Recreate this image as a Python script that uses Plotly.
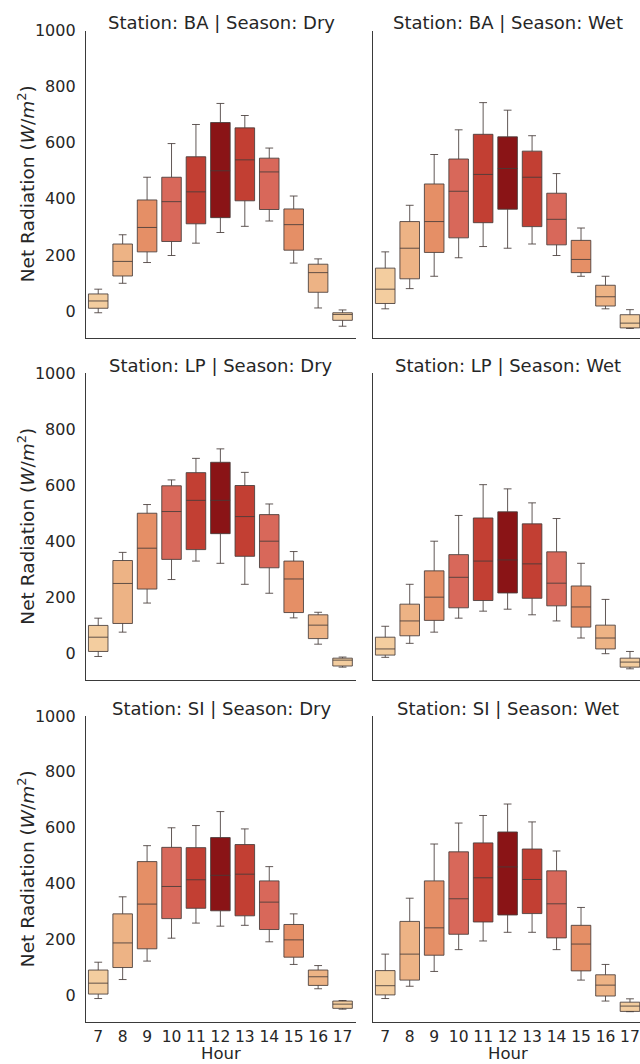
import plotly.graph_objects as go

HOURS = ["7", "8", "9", "10", "11", "12", "13", "14", "15", "16", "17"]
COLORS = ["#f3cd9f", "#edb385", "#e58f66", "#d8685a", "#c23f33", "#8a1416",
          "#c23f33", "#d8685a", "#e58f66", "#edb385", "#f3cd9f"]
TITLES = ["Station: BA | Season: Dry", "Station: BA | Season: Wet",
          "Station: LP | Season: Dry", "Station: LP | Season: Wet",
          "Station: SI | Season: Dry", "Station: SI | Season: Wet"]
Y_TICKS = [0, 200, 400, 600, 800, 1000]

# --- BA Dry ---
BA_DRY_LO = [-6, 99, 173, 198, 242, 280, 302, 321, 171, 11, -54]
BA_DRY_Q1 = [10, 125, 211, 248, 311, 333, 393, 362, 217, 67, -33]
BA_DRY_MED = [36, 177, 298, 390, 425, 500, 539, 496, 308, 137, -12]
BA_DRY_Q3 = [61, 239, 396, 477, 550, 672, 653, 545, 364, 167, -6]
BA_DRY_HI = [78, 272, 477, 597, 665, 740, 697, 581, 410, 186, 4]
# --- BA Wet ---
BA_WET_LO = [8, 80, 124, 190, 230, 224, 239, 198, 124, 8, -62]
BA_WET_Q1 = [27, 115, 209, 261, 315, 363, 301, 236, 137, 18, -60]
BA_WET_MED = [78, 224, 319, 427, 487, 508, 477, 327, 184, 51, -43]
BA_WET_Q3 = [153, 319, 453, 542, 630, 621, 570, 420, 252, 92, -13]
BA_WET_HI = [211, 377, 558, 646, 743, 716, 625, 490, 296, 124, 5]
# --- LP Dry ---
LP_DRY_LO = [-12, 75, 179, 263, 329, 321, 246, 214, 126, 32, -50]
LP_DRY_Q1 = [6, 106, 229, 335, 370, 427, 346, 305, 145, 52, -46]
LP_DRY_MED = [57, 249, 375, 506, 546, 546, 488, 400, 265, 100, -25]
LP_DRY_Q3 = [99, 331, 500, 598, 645, 682, 599, 495, 329, 137, -18]
LP_DRY_HI = [125, 360, 531, 619, 696, 730, 646, 533, 363, 146, -14]
# --- LP Wet ---
LP_WET_LO = [-15, 35, 75, 125, 150, 157, 137, 115, 54, -2, -56]
LP_WET_Q1 = [-7, 62, 117, 162, 188, 215, 196, 169, 93, 15, -50]
LP_WET_MED = [15, 115, 200, 271, 329, 333, 319, 250, 165, 54, -32]
LP_WET_Q3 = [57, 175, 294, 352, 483, 505, 462, 362, 240, 100, -18]
LP_WET_HI = [96, 246, 400, 492, 602, 587, 537, 481, 321, 192, 6]
# --- SI Dry ---
SI_DRY_LO = [-11, 57, 123, 205, 259, 248, 251, 192, 111, 24, -49]
SI_DRY_Q1 = [5, 100, 167, 275, 312, 303, 285, 236, 137, 36, -46]
SI_DRY_MED = [44, 188, 327, 390, 414, 430, 434, 334, 199, 67, -31]
SI_DRY_Q3 = [91, 292, 479, 530, 529, 565, 540, 410, 254, 91, -20]
SI_DRY_HI = [119, 353, 536, 600, 608, 658, 596, 461, 292, 107, -18]
# --- SI Wet ---
SI_WET_LO = [-11, 33, 86, 164, 195, 226, 226, 164, 55, -20, -58]
SI_WET_Q1 = [2, 55, 144, 219, 263, 288, 293, 206, 88, -2, -57]
SI_WET_MED = [35, 148, 242, 346, 421, 460, 415, 328, 184, 37, -38]
SI_WET_Q3 = [89, 265, 410, 514, 546, 585, 524, 446, 251, 74, -24]
SI_WET_HI = [148, 348, 542, 617, 644, 685, 621, 517, 315, 111, -12]

PANELS = [
    (BA_DRY_LO, BA_DRY_Q1, BA_DRY_MED, BA_DRY_Q3, BA_DRY_HI),
    (BA_WET_LO, BA_WET_Q1, BA_WET_MED, BA_WET_Q3, BA_WET_HI),
    (LP_DRY_LO, LP_DRY_Q1, LP_DRY_MED, LP_DRY_Q3, LP_DRY_HI),
    (LP_WET_LO, LP_WET_Q1, LP_WET_MED, LP_WET_Q3, LP_WET_HI),
    (SI_DRY_LO, SI_DRY_Q1, SI_DRY_MED, SI_DRY_Q3, SI_DRY_HI),
    (SI_WET_LO, SI_WET_Q1, SI_WET_MED, SI_WET_Q3, SI_WET_HI),
]

W, H = 640, 1064
FONT = "DejaVu Sans"
TXT = "#262626"

def px(v):
    return v / W

def py(v):
    return 1 - v / H

x_dom = [[px(86), px(356)], [px(373), 1.0]]
x_rng = [[-0.5, 10.55], [-0.5, 10.41]]
rows = [(30.5, 338), (373.3, 680), (716, 1022.3)]
title_y = [23, 365.5, 708.5]

fig = go.Figure()
layout = {}
annotations = []
for i, (lo, q1, med, q3, hi) in enumerate(PANELS):
    r, c = divmod(i, 2)
    n = i + 1
    xa = "x" if n == 1 else f"x{n}"
    ya = "y" if n == 1 else f"y{n}"
    for k, h in enumerate(HOURS):
        fig.add_trace(go.Box(
            x=[h], q1=[q1[k]], median=[med[k]], q3=[q3[k]],
            lowerfence=[lo[k]], upperfence=[hi[k]],
            fillcolor=COLORS[k], line=dict(color="rgba(70,60,58,0.85)", width=1),
            width=0.8, whiskerwidth=0.4, boxpoints=False, showlegend=False,
            xaxis=xa, yaxis=ya,
        ))
    top, bot = rows[r]
    layout["xaxis" if n == 1 else f"xaxis{n}"] = dict(
        domain=x_dom[c], anchor=ya, type="category", categoryorder="array",
        categoryarray=HOURS, range=x_rng[c], showgrid=False, zeroline=False,
        showline=True, linecolor="#3a3a3a", linewidth=1.3, ticks="",
        showticklabels=(r == 2), tickfont=dict(family=FONT, size=15.5, color=TXT),
        ticklabelstandoff=0, automargin=False,
    )
    layout["yaxis" if n == 1 else f"yaxis{n}"] = dict(
        domain=[py(bot), py(top)], anchor=xa, range=[-96, 1000],
        tickvals=Y_TICKS, showgrid=False, zeroline=False, showline=True,
        linecolor="#3a3a3a", linewidth=1.3, ticks="",
        showticklabels=(c == 0), tickfont=dict(family=FONT, size=16, color=TXT),
        ticklabelstandoff=6, automargin=False,
    )
    cx = (x_dom[c][0] + (px(643) if c == 1 else x_dom[c][1])) / 2
    annotations.append(dict(
        text=TITLES[i], x=cx, y=py(title_y[r]), xref="paper", yref="paper",
        xanchor="center", yanchor="middle", showarrow=False,
        font=dict(family=FONT, size=18, color=TXT),
    ))
    if c == 0:
        annotations.append(dict(
            text="Net Radiation (<i>W</i>/<i>m</i><sup>2</sup>)",
            x=px(26), y=py((top + bot) / 2), xref="paper", yref="paper",
            xanchor="center", yanchor="middle", textangle=-90, showarrow=False,
            font=dict(family=FONT, size=18.5, color=TXT),
        ))
    if r == 2:
        annotations.append(dict(
            text="Hour", x=cx, y=0, xref="paper", yref="paper",
            xanchor="center", yanchor="bottom", showarrow=False, borderpad=0,
            font=dict(family=FONT, size=16.5, color=TXT),
        ))

fig.update_layout(
    width=W, height=H, margin=dict(l=0, r=0, t=0, b=0),
    paper_bgcolor="white", plot_bgcolor="white", boxmode="overlay",
    annotations=annotations, **layout,
)
fig.write_html("out.html")
